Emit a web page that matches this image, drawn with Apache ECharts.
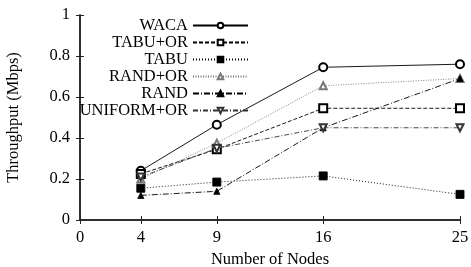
<!DOCTYPE html>
<html>
<head>
<meta charset="utf-8">
<script src="https://cdn.jsdelivr.net/npm/echarts@6/dist/echarts.min.js"></script>
<style>
  html, body { margin: 0; padding: 0; background: #fff; }
  #chart { width: 471px; height: 267px; }
</style>
</head>
<body>
<div id="chart"></div>
<script>
// node counts on the x axis
var nodes = [4, 9, 16, 25];
var xTicks = [0, 4, 9, 16, 25];

// throughput (Mbps) per scheme
var waca      = [0.24, 0.465, 0.745, 0.76];
var tabuOr    = [0.225, 0.345, 0.545, 0.545];
var tabu      = [0.155, 0.185, 0.215, 0.125];
var randOr    = [0.2, 0.375, 0.655, 0.69];
var rand      = [0.12, 0.14, 0.45, 0.69];
var uniformOr = [0.21, 0.35, 0.45, 0.45];

var FONT = 'Liberation Serif';
var FS = 16.5;

function pairs(vals) {
  return nodes.map(function (n, i) { return [n, vals[i]]; });
}

function mkSeries(name, vals, symbol, size, color, dash, rotate) {
  return {
    name: name,
    type: 'line',
    data: pairs(vals),
    symbol: symbol,
    symbolSize: size,
    symbolRotate: rotate || 0,
    showAllSymbol: true,
    lineStyle: { color: color, width: 0.9, type: dash },
    itemStyle: { color: color, borderColor: color, borderWidth: 0.9 },
    emphasis: { disabled: true },
    animation: false
  };
}

var chart = echarts.init(document.getElementById('chart'));

var axisLine = { show: true, lineStyle: { color: '#222', width: 1.5 } };
var tickCommon = { show: true, inside: true, length: 4, lineStyle: { color: '#222', width: 1 } };

chart.setOption({
  backgroundColor: '#fff',
  animation: false,
  textStyle: { fontFamily: FONT },
  grid: { left: 80, right: 11, top: 15, bottom: 47, outerBoundsMode: 'none', containLabel: false },
  legend: {
    orient: 'vertical',
    align: 'right',
    right: 222,
    top: 17,
    padding: 0,
    itemGap: 0,
    itemWidth: 55,
    itemHeight: 7,
    textStyle: { fontFamily: FONT, fontSize: FS, color: '#000', lineHeight: 16.2 },
    data: ['WACA', 'TABU+OR', 'TABU', 'RAND+OR', 'RAND', 'UNIFORM+OR']
  },
  xAxis: [{
    type: 'value',
    min: 0, max: 25,
    name: 'Number of Nodes',
    nameLocation: 'middle',
    nameGap: 30,
    nameTextStyle: { fontFamily: FONT, fontSize: FS, color: '#000' },
    axisLine: axisLine,
    axisTick: Object.assign({ customValues: xTicks }, tickCommon),
    axisLabel: { customValues: xTicks, fontFamily: FONT, fontSize: FS, color: '#000', margin: 9 },
    splitLine: { show: false }
  }, {
    type: 'value',
    position: 'top',
    min: 0, max: 25,
    axisLine: axisLine,
    axisTick: Object.assign({ customValues: xTicks }, tickCommon),
    axisLabel: { show: false },
    splitLine: { show: false }
  }],
  yAxis: [{
    type: 'value',
    min: 0, max: 1, interval: 0.2,
    name: 'Throughput (Mbps)',
    nameLocation: 'middle',
    nameGap: 58,
    nameTextStyle: { fontFamily: FONT, fontSize: FS, color: '#000' },
    axisLine: axisLine,
    axisTick: tickCommon,
    axisLabel: { fontFamily: FONT, fontSize: FS, color: '#000', margin: 10 },
    splitLine: { show: false }
  }, {
    type: 'value',
    position: 'right',
    min: 0, max: 1, interval: 0.2,
    axisLine: axisLine,
    axisTick: tickCommon,
    axisLabel: { show: false },
    splitLine: { show: false }
  }],
  series: [
    mkSeries('WACA', waca, 'emptyCircle', 8, '#000', 'solid'),
    mkSeries('TABU+OR', tabuOr, 'emptyRect', 8, '#000', [4, 2]),
    mkSeries('TABU', tabu, 'rect', 8, '#000', [1, 2]),
    mkSeries('RAND+OR', randOr, 'emptyTriangle', 7, '#777', [1, 1.5]),
    mkSeries('RAND', rand, 'triangle', 6, '#000', [6, 2, 1, 2]),
    mkSeries('UNIFORM+OR', uniformOr, 'emptyTriangle', 7, '#333', [5, 2, 1, 2], 180)
  ]
});
</script>
</body>
</html>
